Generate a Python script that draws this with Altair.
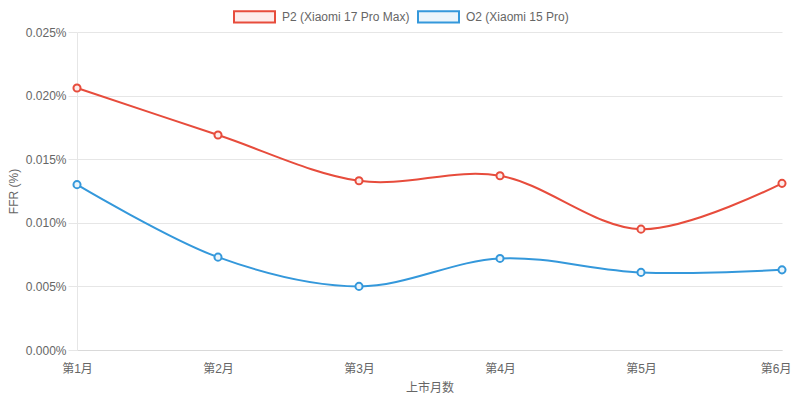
import altair as alt
import pandas as pd

months = ["第1月", "第2月", "第3月", "第4月", "第5月", "第6月"]
series_names = ["P2 (Xiaomi 17 Pro Max)", "O2 (Xiaomi 15 Pro)"]
p2_values = [0.0206, 0.0169, 0.0133, 0.0137, 0.0095, 0.0131]
o2_values = [0.0130, 0.0073, 0.0050, 0.0072, 0.0061, 0.0063]
y_ticks = [0.0, 0.005, 0.010, 0.015, 0.020, 0.025]

stroke_colors = ["#e74c3c", "#3498db"]
fill_colors = ["#fdeceb", "#ebf5fb"]

rows = []
for m, v in zip(months, p2_values):
    rows.append({"month": m, "series": series_names[0], "ffr": v})
for m, v in zip(months, o2_values):
    rows.append({"month": m, "series": series_names[1], "ffr": v})
df = pd.DataFrame(rows)

FONT = "'Liberation Sans', Arial, 'Noto Sans CJK SC', sans-serif"
last_month_test = "datum.value === '" + months[-1] + "'"

x_enc = alt.X(
    "month:N",
    sort=months,
    scale=alt.Scale(type="point", padding=0),
    axis=alt.Axis(
        title="上市月数",
        labelAngle=0,
        grid=False,
        tickSize=0,
        labelPadding=13,
        titlePadding=8,
        domainColor="#d9d9d9",
        labelAlign={"condition": {"test": last_month_test, "value": "right"}, "value": "center"},
        labelOffset={"condition": {"test": last_month_test, "value": 9}, "value": 0},
    ),
)
y_enc = alt.Y(
    "ffr:Q",
    scale=alt.Scale(domain=[0, 0.025], nice=False, zero=True),
    axis=alt.Axis(
        title="FFR (%)",
        values=y_ticks,
        labelExpr="format(datum.value, '.3f') + '%'",
        grid=True,
        gridColor="#e6e6e6",
        tickSize=9,
        tickColor="#e6e6e6",
        labelPadding=2,
        domainColor="#e6e6e6",
        titleX=-64,
        titleY=159,
        titleAngle=270,
        titleBaseline="middle",
        titleAlign="center",
    ),
)

legend_opts = dict(
    title=None,
    orient="none",
    legendX=156,
    legendY=-37,
    direction="horizontal",
    symbolType="M-1,-0.28H1V0.28H-1Z",
    symbolSize=1681,
    symbolStrokeWidth=2,
    labelFontSize=12,
    labelColor="#666666",
    labelFont=FONT,
    labelOffset=6,
    columnPadding=4,
)

stroke_enc = alt.Stroke(
    "series:N",
    sort=series_names,
    scale=alt.Scale(domain=series_names, range=stroke_colors),
    legend=alt.Legend(**legend_opts),
)
fill_enc = alt.Fill(
    "series:N",
    sort=series_names,
    scale=alt.Scale(domain=series_names, range=fill_colors),
    legend=alt.Legend(**legend_opts),
)

base = alt.Chart(df)

lines = base.mark_line(interpolate="cardinal", strokeWidth=2).encode(
    x=x_enc, y=y_enc, stroke=stroke_enc, detail="series:N"
)
points = base.mark_point(shape="circle", size=50, strokeWidth=2, opacity=1, filled=False).encode(
    x=x_enc, y=y_enc, stroke=stroke_enc, fill=fill_enc
)

chart = (
    alt.layer(lines, points)
    .properties(
        width=705,
        height=318,
        autosize=alt.AutoSizeParams(type="none"),
        padding={"left": 69, "top": 24, "right": 10, "bottom": 43},
    )
    .configure_view(stroke=None)
    .configure_axis(
        labelFont=FONT,
        titleFont=FONT,
        labelFontSize=12,
        titleFontSize=12,
        labelColor="#666666",
        titleColor="#666666",
        titleFontWeight="normal",
    )
)

chart.save("out.html", embed_options={"renderer": "svg", "actions": False})
